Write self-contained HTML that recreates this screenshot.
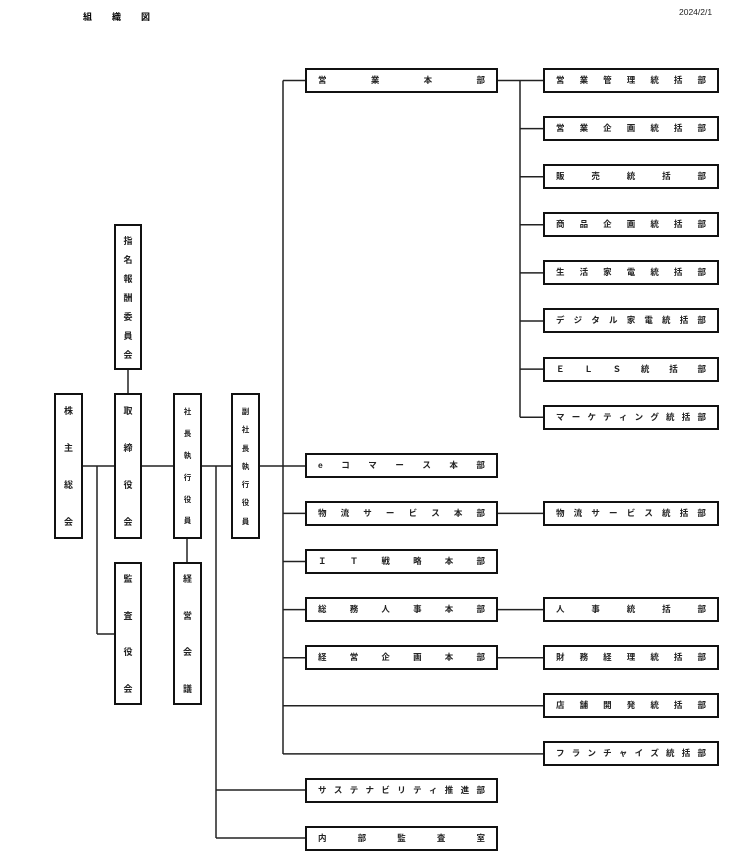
<!DOCTYPE html>
<html><head><meta charset="utf-8">
<style>
html,body{margin:0;padding:0;background:#fff;}
body{width:739px;height:860px;position:relative;overflow:hidden;font-family:"Liberation Sans","Noto Sans CJK JP",sans-serif;}
.b{position:absolute;box-sizing:border-box;border:2px solid #111;background:#fff;}
.h{height:25px;display:flex;align-items:center;justify-content:space-between;padding:0 11px 0 11px;font-size:8.5px;font-weight:bold;color:#222;line-height:1;}
.v{display:flex;flex-direction:column;align-items:center;justify-content:space-between;font-size:9px;font-weight:bold;color:#222;line-height:1;}
.v.s{font-size:7.5px;}
.t{position:absolute;font-weight:bold;font-size:9px;line-height:1;color:#000;}
svg{position:absolute;left:0;top:0;}
</style></head><body>
<div class="t" style="left:83px;top:13px;">組</div>
<div class="t" style="left:112px;top:13px;">織</div>
<div class="t" style="left:141px;top:13px;">図</div>
<div class="t" style="left:679px;top:8px;font-size:8.5px;font-weight:normal;color:#222;">2024/2/1</div>

<svg width="739" height="860" viewBox="0 0 739 860">
<g stroke="#222" stroke-width="1.5" fill="none">
<line x1="83" y1="466" x2="305" y2="466"/>
<line x1="97" y1="466" x2="97" y2="634"/>
<line x1="97" y1="634" x2="114" y2="634"/>
<line x1="128" y1="370" x2="128" y2="393"/>
<line x1="187" y1="539" x2="187" y2="562"/>
<line x1="216" y1="466" x2="216" y2="838"/>
<line x1="216" y1="790" x2="305" y2="790"/>
<line x1="216" y1="838" x2="305" y2="838"/>
<line x1="283" y1="80.5" x2="283" y2="754"/>
<line x1="283" y1="80.5" x2="305" y2="80.5"/>
<line x1="283" y1="513.4" x2="305" y2="513.4"/>
<line x1="283" y1="561.5" x2="305" y2="561.5"/>
<line x1="283" y1="609.6" x2="305" y2="609.6"/>
<line x1="283" y1="657.7" x2="305" y2="657.7"/>
<line x1="283" y1="705.8" x2="543" y2="705.8"/>
<line x1="283" y1="753.9" x2="543" y2="753.9"/>
<line x1="498" y1="80.5" x2="543" y2="80.5"/>
<line x1="520" y1="80.5" x2="520" y2="417.2"/>
<line x1="520" y1="128.6" x2="543" y2="128.6"/>
<line x1="520" y1="176.7" x2="543" y2="176.7"/>
<line x1="520" y1="224.8" x2="543" y2="224.8"/>
<line x1="520" y1="272.9" x2="543" y2="272.9"/>
<line x1="520" y1="321" x2="543" y2="321"/>
<line x1="520" y1="369.1" x2="543" y2="369.1"/>
<line x1="520" y1="417.2" x2="543" y2="417.2"/>
<line x1="498" y1="513.4" x2="543" y2="513.4"/>
<line x1="498" y1="609.6" x2="543" y2="609.6"/>
<line x1="498" y1="657.7" x2="543" y2="657.7"/>
</g>
</svg>

<!-- vertical boxes -->
<div class="b v" style="left:54px;top:393px;width:29px;height:146px;padding:12px 0 10px;"><span>株</span><span>主</span><span>総</span><span>会</span></div>
<div class="b v" style="left:114px;top:393px;width:28px;height:146px;padding:12px 0 10px;"><span>取</span><span>締</span><span>役</span><span>会</span></div>
<div class="b v s" style="left:173px;top:393px;width:29px;height:146px;padding:13px 0 12px;"><span>社</span><span>長</span><span>執</span><span>行</span><span>役</span><span>員</span></div>
<div class="b v s" style="left:231px;top:393px;width:29px;height:146px;padding:13px 0 12px;"><span>副</span><span>社</span><span>長</span><span>執</span><span>行</span><span>役</span><span>員</span></div>
<div class="b v" style="left:114px;top:224px;width:28px;height:146px;padding:11px 0 8px;"><span>指</span><span>名</span><span>報</span><span>酬</span><span>委</span><span>員</span><span>会</span></div>
<div class="b v" style="left:114px;top:562px;width:28px;height:143px;padding:11px 0 9px;"><span>監</span><span>査</span><span>役</span><span>会</span></div>
<div class="b v" style="left:173px;top:562px;width:29px;height:143px;padding:11px 0 9px;"><span>経</span><span>営</span><span>会</span><span>議</span></div>

<!-- middle column -->
<div class="b h" style="left:305px;top:68px;width:193px;"><span>営</span><span>業</span><span>本</span><span>部</span></div>
<div class="b h" style="left:305px;top:453px;width:193px;"><span>e</span><span>コ</span><span>マ</span><span>ー</span><span>ス</span><span>本</span><span>部</span></div>
<div class="b h" style="left:305px;top:501px;width:193px;"><span>物</span><span>流</span><span>サ</span><span>ー</span><span>ビ</span><span>ス</span><span>本</span><span>部</span></div>
<div class="b h" style="left:305px;top:549px;width:193px;"><span>Ｉ</span><span>Ｔ</span><span>戦</span><span>略</span><span>本</span><span>部</span></div>
<div class="b h" style="left:305px;top:597px;width:193px;"><span>総</span><span>務</span><span>人</span><span>事</span><span>本</span><span>部</span></div>
<div class="b h" style="left:305px;top:645px;width:193px;"><span>経</span><span>営</span><span>企</span><span>画</span><span>本</span><span>部</span></div>
<div class="b h" style="left:305px;top:778px;width:193px;"><span>サ</span><span>ス</span><span>テ</span><span>ナ</span><span>ビ</span><span>リ</span><span>テ</span><span>ィ</span><span>推</span><span>進</span><span>部</span></div>
<div class="b h" style="left:305px;top:826px;width:193px;"><span>内</span><span>部</span><span>監</span><span>査</span><span>室</span></div>

<!-- right column -->
<div class="b h" style="left:543px;top:68px;width:176px;"><span>営</span><span>業</span><span>管</span><span>理</span><span>統</span><span>括</span><span>部</span></div>
<div class="b h" style="left:543px;top:116px;width:176px;"><span>営</span><span>業</span><span>企</span><span>画</span><span>統</span><span>括</span><span>部</span></div>
<div class="b h" style="left:543px;top:164px;width:176px;"><span>販</span><span>売</span><span>統</span><span>括</span><span>部</span></div>
<div class="b h" style="left:543px;top:212px;width:176px;"><span>商</span><span>品</span><span>企</span><span>画</span><span>統</span><span>括</span><span>部</span></div>
<div class="b h" style="left:543px;top:260px;width:176px;"><span>生</span><span>活</span><span>家</span><span>電</span><span>統</span><span>括</span><span>部</span></div>
<div class="b h" style="left:543px;top:308px;width:176px;"><span>デ</span><span>ジ</span><span>タ</span><span>ル</span><span>家</span><span>電</span><span>統</span><span>括</span><span>部</span></div>
<div class="b h" style="left:543px;top:357px;width:176px;"><span>Ｅ</span><span>Ｌ</span><span>Ｓ</span><span>統</span><span>括</span><span>部</span></div>
<div class="b h" style="left:543px;top:405px;width:176px;"><span>マ</span><span>ー</span><span>ケ</span><span>テ</span><span>ィ</span><span>ン</span><span>グ</span><span>統</span><span>括</span><span>部</span></div>
<div class="b h" style="left:543px;top:501px;width:176px;"><span>物</span><span>流</span><span>サ</span><span>ー</span><span>ビ</span><span>ス</span><span>統</span><span>括</span><span>部</span></div>
<div class="b h" style="left:543px;top:597px;width:176px;"><span>人</span><span>事</span><span>統</span><span>括</span><span>部</span></div>
<div class="b h" style="left:543px;top:645px;width:176px;"><span>財</span><span>務</span><span>経</span><span>理</span><span>統</span><span>括</span><span>部</span></div>
<div class="b h" style="left:543px;top:693px;width:176px;"><span>店</span><span>舗</span><span>開</span><span>発</span><span>統</span><span>括</span><span>部</span></div>
<div class="b h" style="left:543px;top:741px;width:176px;"><span>フ</span><span>ラ</span><span>ン</span><span>チ</span><span>ャ</span><span>イ</span><span>ズ</span><span>統</span><span>括</span><span>部</span></div>
</body></html>
